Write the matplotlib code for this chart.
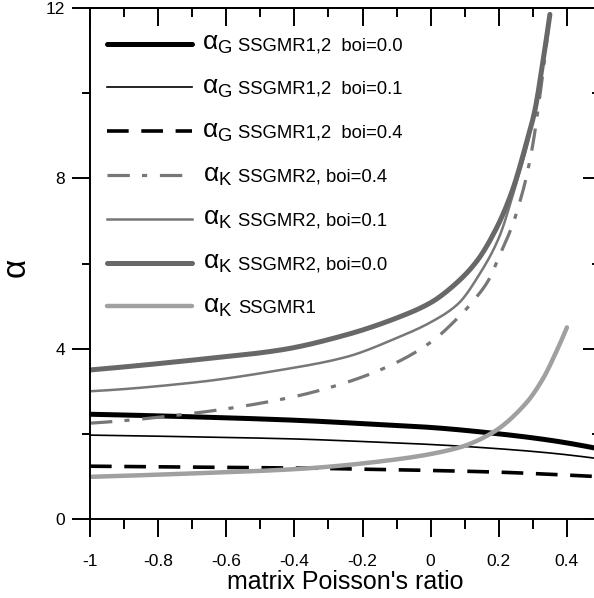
import numpy as np
import matplotlib
matplotlib.use("Agg")
import matplotlib.pyplot as plt
from matplotlib.ticker import MultipleLocator

plt.rcParams['font.family'] = ['Liberation Sans', 'DejaVu Sans']
plt.rcParams['mathtext.fontset'] = 'custom'
plt.rcParams['mathtext.rm'] = 'Liberation Sans'
plt.rcParams['mathtext.it'] = 'Liberation Sans'

# Curves (matrix Poisson's ratio -> alpha)
nu_g = [-1.0, -0.7, -0.4, -0.2, 0.0, 0.2, 0.35, 0.48]
ag_b00 = [2.46, 2.40, 2.32, 2.24, 2.15, 2.00, 1.85, 1.67]
ag_b01 = [1.97, 1.93, 1.88, 1.82, 1.75, 1.65, 1.55, 1.43]
ag_b04 = [1.24, 1.22, 1.20, 1.17, 1.14, 1.10, 1.05, 1.00]

nu_k2_b00 = [-1.0, -0.7, -0.44, -0.25, -0.1, 0.0, 0.07, 0.135, 0.195, 0.24, 0.28, 0.306, 0.33, 0.35]
ak2_b00 = [3.50, 3.73, 3.97, 4.32, 4.72, 5.08, 5.50, 6.05, 6.86, 7.72, 8.80, 9.60, 10.77, 11.85]
nu_k2_b01 = [-1.0, -0.7, -0.44, -0.25, -0.1, 0.0, 0.08, 0.145, 0.2, 0.25, 0.29, 0.32, 0.35]
ak2_b01 = [3.00, 3.20, 3.50, 3.80, 4.25, 4.62, 5.05, 5.77, 6.60, 7.85, 9.00, 10.3, 11.85]
nu_k2_b04 = [-1.0, -0.7, -0.42, -0.27, -0.12, 0.0, 0.077, 0.125, 0.17, 0.2, 0.24, 0.26, 0.28, 0.30, 0.32, 0.345]
ak2_b04 = [2.25, 2.48, 2.84, 3.15, 3.60, 4.15, 4.70, 5.12, 5.61, 6.15, 6.90, 7.40, 8.00, 8.80, 9.90, 11.5]

nu_k1 = [-1.0, -0.7, -0.4, -0.12, 0.08, 0.18, 0.28, 0.33, 0.37, 0.40]
ak1 = [0.99, 1.07, 1.17, 1.38, 1.67, 2.02, 2.72, 3.30, 3.95, 4.50]

labels = ['SSGMR1,2  boi=0.0', 'SSGMR1,2  boi=0.1', 'SSGMR1,2  boi=0.4',
          'SSGMR2, boi=0.4', 'SSGMR2, boi=0.1', 'SSGMR2, boi=0.0', 'SSGMR1']
alpha_subs = ['G', 'G', 'G', 'K', 'K', 'K', 'K']


# monotone cubic through the read points, just to draw smooth curves
def pchip(x, y, n=400):
    x = np.asarray(x, float)
    y = np.asarray(y, float)
    h = np.diff(x)
    d = np.diff(y) / h
    m = np.zeros_like(y)
    for k in range(1, len(x) - 1):
        if d[k - 1] * d[k] > 0:
            w1 = 2 * h[k] + h[k - 1]
            w2 = h[k] + 2 * h[k - 1]
            m[k] = (w1 + w2) / (w1 / d[k - 1] + w2 / d[k])
    m[0] = ((2 * h[0] + h[1]) * d[0] - h[0] * d[1]) / (h[0] + h[1])
    if np.sign(m[0]) != np.sign(d[0]):
        m[0] = 0
    m[-1] = ((2 * h[-1] + h[-2]) * d[-1] - h[-1] * d[-2]) / (h[-1] + h[-2])
    if np.sign(m[-1]) != np.sign(d[-1]):
        m[-1] = 0
    xs = np.linspace(x[0], x[-1], n)
    i = np.clip(np.searchsorted(x, xs) - 1, 0, len(h) - 1)
    t = (xs - x[i]) / h[i]
    ys = ((2 * t**3 - 3 * t**2 + 1) * y[i] + (t**3 - 2 * t**2 + t) * h[i] * m[i]
          + (-2 * t**3 + 3 * t**2) * y[i + 1] + (t**3 - t**2) * h[i] * m[i + 1])
    return xs, ys


fig = plt.figure(figsize=(5.94, 5.98), dpi=100)
ax = fig.add_axes([90 / 594, 79 / 598, 511 / 594, 511 / 598])

black = '#000000'
grey_mid = '#777777'
grey_dark = '#686868'
grey_light = '#a0a0a0'

ax.plot(*pchip(nu_g, ag_b00), color=black, lw=3.6, solid_capstyle='round', label=labels[0])
ax.plot(*pchip(nu_g, ag_b01), color=black, lw=1.2, label=labels[1])
ax.plot(*pchip(nu_g, ag_b04), color=black, lw=2.6, dashes=(6, 3.5), label=labels[2])
ax.plot(*pchip(nu_k2_b04, ak2_b04), color=grey_mid, lw=2.3, dashes=(7, 3.8, 1.6, 4), label=labels[3])
ax.plot(*pchip(nu_k2_b01, ak2_b01), color=grey_mid, lw=1.8, label=labels[4])
ax.plot(*pchip(nu_k2_b00, ak2_b00), color=grey_dark, lw=3.6, solid_capstyle='round', label=labels[5])
ax.plot(*pchip(nu_k1, ak1), color=grey_light, lw=3.2, solid_capstyle='round', label=labels[6])

ax.set_xlim(-1, 0.5)
ax.set_ylim(0, 12)
ax.set_xticks([-1, -0.8, -0.6, -0.4, -0.2, 0, 0.2, 0.4])
ax.set_xticklabels(['-1', '-0.8', '-0.6', '-0.4', '-0.2', '0', '0.2', '0.4'])
ax.xaxis.set_minor_locator(MultipleLocator(0.1))
ax.set_yticks([0, 4, 8, 12])
ax.set_yticklabels(['0', '4', '8', '12'])
ax.yaxis.set_minor_locator(MultipleLocator(2))

ax.tick_params(axis='both', which='major', direction='out', length=13, width=1.4,
               labelsize=12.5, top=False, right=False)
ax.tick_params(axis='both', which='minor', direction='out', length=7, width=1.4,
               top=False, right=False)
ax.tick_params(axis='x', which='major', pad=12)
ax.tick_params(axis='y', which='major', pad=5)
ax.tick_params(axis='y', which='minor', length=6)

# inward ticks on the top and right edges
top = ax.secondary_xaxis('top')
top.set_xticks([-1, -0.8, -0.6, -0.4, -0.2, 0, 0.2, 0.4])
top.xaxis.set_minor_locator(MultipleLocator(0.1))
top.set_xticklabels([])
top.tick_params(which='major', direction='in', length=13, width=1.4)
top.tick_params(which='minor', direction='in', length=6.5, width=1.4)
right = ax.secondary_yaxis('right')
right.set_yticks([0, 4, 8, 12])
right.yaxis.set_minor_locator(MultipleLocator(2))
right.set_yticklabels([])
right.tick_params(which='major', direction='in', length=13, width=1.4)
right.tick_params(which='minor', direction='in', length=6.5, width=1.4)
for a in (ax, top, right):
    for sp in a.spines.values():
        sp.set_linewidth(1.4)

ax.set_xlabel("matrix Poisson's ratio", fontsize=18, labelpad=1)
ax.set_ylabel(r'$\alpha$', fontsize=24, rotation=90)
ax.yaxis.set_label_coords(-0.112, 0.49)

leg = ax.legend(loc='upper left', frameon=False, fontsize=13.3, handlelength=4.6,
                handletextpad=2.5, labelspacing=1.45, borderaxespad=0, borderpad=0,
                bbox_to_anchor=(0.033, 0.943))
# the big alpha symbols sit between each legend line and its text
for txt, sub in zip(leg.get_texts(), alpha_subs):
    ax.annotate(r'$\alpha_{\mathrm{%s}}$' % sub, xy=(0, 0.5), xycoords=txt,
                xytext=(-4, 1), textcoords='offset points', ha='right', va='center',
                fontsize=19, zorder=10)

fig.savefig('out.png', dpi=100)
